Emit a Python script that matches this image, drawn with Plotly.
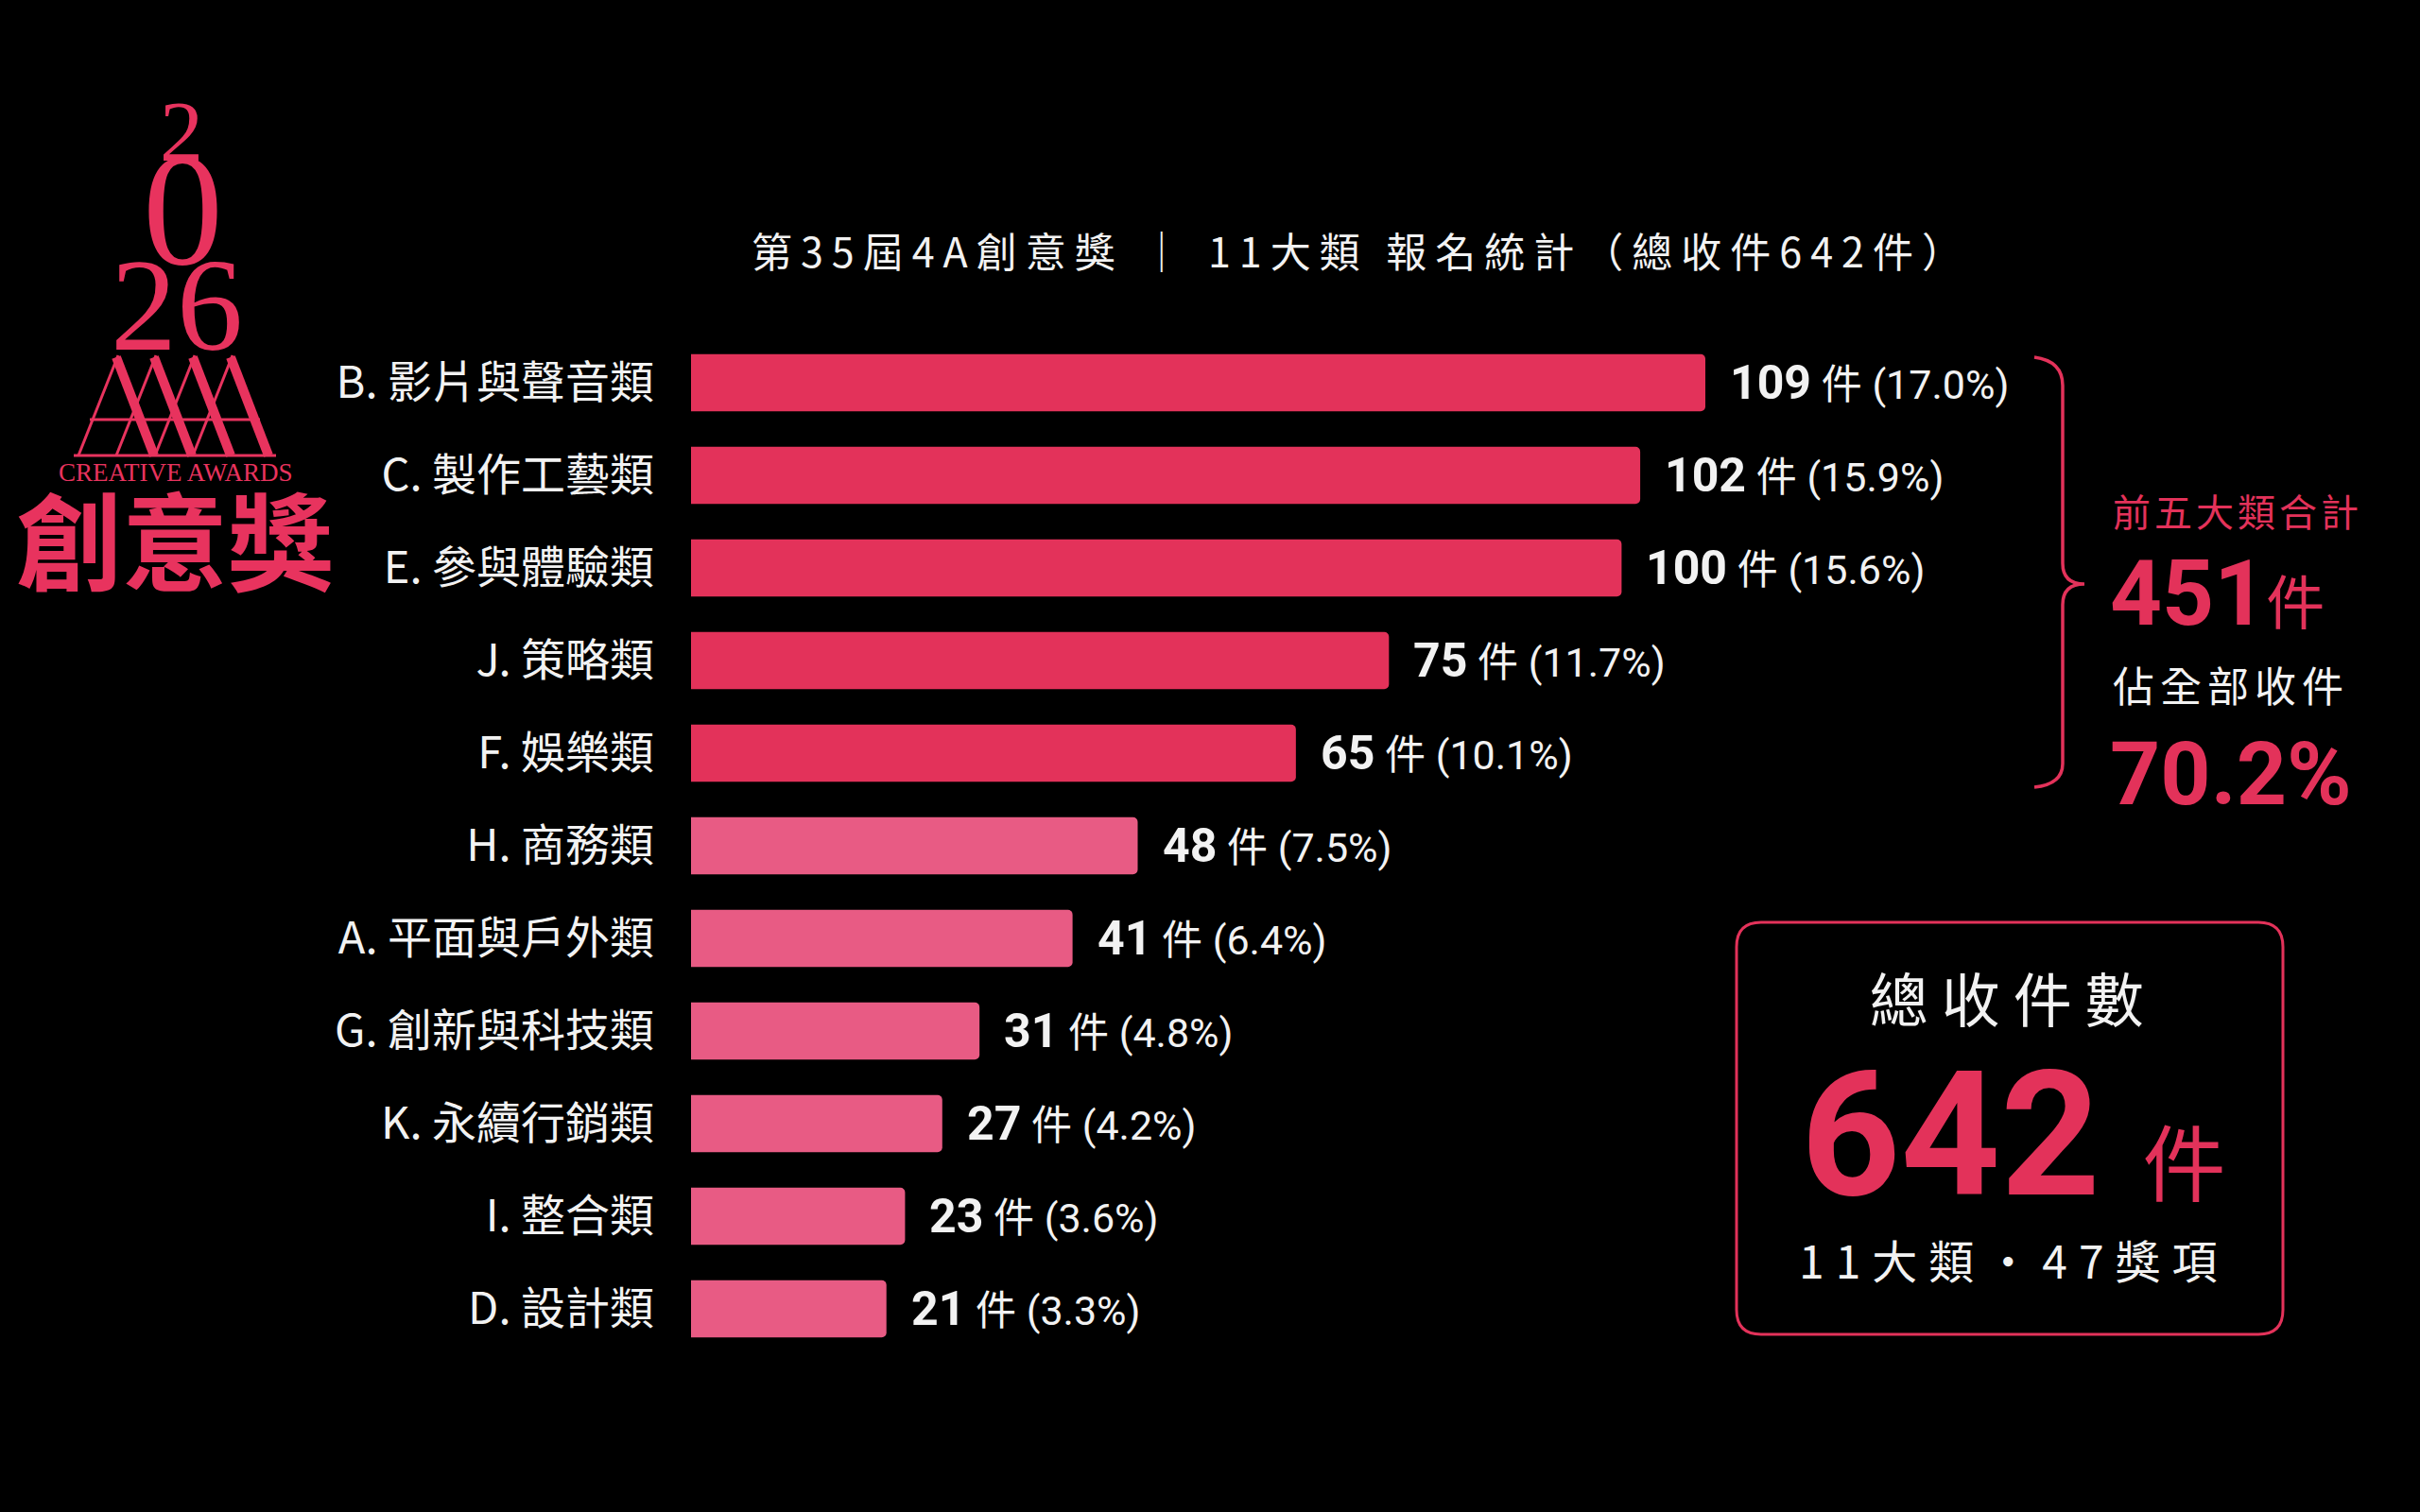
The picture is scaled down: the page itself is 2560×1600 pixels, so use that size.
import plotly.graph_objects as go

# ---------------- data ----------------
categories = ["B. 影片與聲音類", "C. 製作工藝類", "E. 參與體驗類", "J. 策略類", "F. 娛樂類",
              "H. 商務類", "A. 平面與戶外類", "G. 創新與科技類", "K. 永續行銷類", "I. 整合類", "D. 設計類"]
counts = [109, 102, 100, 75, 65, 48, 41, 31, 27, 23, 21]
pct_labels = ["17.0%", "15.9%", "15.6%", "11.7%", "10.1%", "7.5%", "6.4%", "4.8%", "4.2%", "3.6%", "3.3%"]
top_n = 5
top_total = "451"
top_share = "70.2%"
grand_total = "642"
summary_line = "11大類・47獎項"
title_text = "第35屆4A創意獎 ｜ 11大類 報名統計（總收件642件）"

# ---------------- style ----------------
W, H = 2560, 1600
PINK = "#E3325A"
PINK_LIGHT = "#E85B84"
LOGO = "#E8335E"
WHITE = "#F2F2F2"
CJK = "Noto Sans CJK TC"
NUM = "Roboto, Noto Sans CJK TC"
SERIF = "Liberation Serif, DejaVu Serif, serif"


def px(x):
    return x / W


def py(y):
    return 1 - y / H


bar_colors = [PINK if i < top_n else PINK_LIGHT for i in range(len(counts))]

x_left_px, x_109_px = 731, 1804
x_max = max(counts) * (W - x_left_px) / (x_109_px - x_left_px)

fig = go.Figure()
fig.add_trace(go.Bar(
    x=counts, y=categories, orientation="h",
    marker=dict(color=bar_colors, line=dict(width=0), cornerradius=5),
    hoverinfo="skip", showlegend=False,
))

annotations = []
# value labels
for c, v, p in zip(categories, counts, pct_labels):
    annotations.append(dict(
        x=v, y=c, xref="x", yref="y", xanchor="left", yanchor="middle", xshift=24,
        text=f"<b><span style='font-size:50px'>{v}</span></b> 件 ({p})",
        showarrow=False, font=dict(family=NUM, size=43, color=WHITE),
    ))

# title
annotations.append(dict(
    x=px(1440), y=py(264), xref="paper", yref="paper", xanchor="center", yanchor="middle",
    text=f"<span style='letter-spacing:9px'>{title_text}</span>", showarrow=False,
    font=dict(family=CJK, size=43, color=WHITE),
))

# right-hand bracket texts
annotations += [
    dict(x=px(2233), y=py(540), xref="paper", yref="paper", xanchor="left", yanchor="middle",
         text="<span style='letter-spacing:4px'>前五大類合計</span>", showarrow=False,
         font=dict(family=CJK, size=40, color=PINK)),
    dict(x=px(2230), y=py(628), xref="paper", yref="paper", xanchor="left", yanchor="middle",
         text=f"<b>{top_total}</b><span style='font-size:62px'>件</span>", showarrow=False,
         font=dict(family=NUM, size=96, color=PINK)),
    dict(x=px(2233), y=py(724), xref="paper", yref="paper", xanchor="left", yanchor="middle",
         text="<span style='letter-spacing:6px'>佔全部收件</span>", showarrow=False,
         font=dict(family=CJK, size=44, color=WHITE)),
    dict(x=px(2230), y=py(820), xref="paper", yref="paper", xanchor="left", yanchor="middle",
         text=f"<b>{top_share}</b>", showarrow=False,
         font=dict(family=NUM, size=93, color=PINK)),
]

# total box texts (heading + big number share one annotation)
box_top_baseline = 1079
annotations += [
    dict(x=px(2130), y=py(box_top_baseline - 0.927 * 62), xref="paper", yref="paper",
         xanchor="center", yanchor="top", align="center",
         text=(f"<span style='font-size:62px;letter-spacing:14px;color:{WHITE}'>總收件數</span><br>"
               f"<b><span style='font-size:184px'>{grand_total}</span></b>"
               f"<span style='font-size:88px'>\u2002件</span>"),
         showarrow=False, font=dict(family=NUM, size=140, color=PINK)),
    dict(x=px(2130), y=py(1332), xref="paper", yref="paper", xanchor="center", yanchor="middle",
         text=f"<span style='letter-spacing:12px'>{summary_line}</span>", showarrow=False,
         font=dict(family=CJK, size=48, color=WHITE)),
]

# logo texts
annotations += [
    dict(x=px(192), y=py(139), xref="paper", yref="paper", xanchor="center", yanchor="middle",
         text="2", showarrow=False, font=dict(family=SERIF, size=92, color=LOGO)),
    dict(x=px(193), y=py(222), xref="paper", yref="paper", xanchor="center", yanchor="middle",
         text="0", showarrow=False, font=dict(family=SERIF, size=170, color=LOGO)),
    dict(x=px(187), y=py(322), xref="paper", yref="paper", xanchor="center", yanchor="middle",
         text="26", showarrow=False, font=dict(family=SERIF, size=140, color=LOGO)),
    dict(x=px(186), y=py(500), xref="paper", yref="paper", xanchor="center", yanchor="middle",
         text="CREATIVE AWARDS", showarrow=False, font=dict(family=SERIF, size=27, color=LOGO)),
    dict(x=px(185), y=py(568), xref="paper", yref="paper", xanchor="center", yanchor="middle",
         text="<b>創意獎</b>", showarrow=False, font=dict(family=CJK, size=112, color=LOGO)),
]

shapes = []
# bracket
bracket = [(2152, 378), (2182, 382), (2182, 408), (2182, 596), (2182, 618), (2205, 618),
           (2182, 618), (2182, 640), (2182, 808), (2182, 830), (2152, 833)]
b = [(px(x), py(y)) for x, y in bracket]
path = (f"M {b[0][0]},{b[0][1]} Q {b[1][0]},{b[1][1]} {b[2][0]},{b[2][1]} "
        f"L {b[3][0]},{b[3][1]} Q {b[4][0]},{b[4][1]} {b[5][0]},{b[5][1]} "
        f"Q {b[6][0]},{b[6][1]} {b[7][0]},{b[7][1]} L {b[8][0]},{b[8][1]} "
        f"Q {b[9][0]},{b[9][1]} {b[10][0]},{b[10][1]}")
shapes.append(dict(type="path", xref="paper", yref="paper", path=path,
                   line=dict(color=PINK, width=3.5)))

# rounded total box
x0, x1, y0, y1, r = 1837, 2415, 976, 1412, 26
pts = dict(
    a=(px(x0 + r), py(y0)), b=(px(x1 - r), py(y0)), c=(px(x1), py(y0)), d=(px(x1), py(y0 + r)),
    e=(px(x1), py(y1 - r)), f=(px(x1), py(y1)), g=(px(x1 - r), py(y1)), h=(px(x0 + r), py(y1)),
    i=(px(x0), py(y1)), j=(px(x0), py(y1 - r)), k=(px(x0), py(y0 + r)), l=(px(x0), py(y0)),
)
P = {k: f"{v[0]},{v[1]}" for k, v in pts.items()}
box_path = (f"M {P['a']} L {P['b']} Q {P['c']} {P['d']} L {P['e']} Q {P['f']} {P['g']} "
            f"L {P['h']} Q {P['i']} {P['j']} L {P['k']} Q {P['l']} {P['a']} Z")
shapes.append(dict(type="path", xref="paper", yref="paper", path=box_path,
                   line=dict(color=PINK, width=3)))

# logo "AAAA" strokes
apexes = [125, 165, 206, 246]
top_y, base_y, half = 376, 482, 42
for ax in apexes:
    shapes.append(dict(type="line", xref="paper", yref="paper",
                       x0=px(ax), y0=py(top_y), x1=px(ax - half), y1=py(base_y),
                       line=dict(color=LOGO, width=3)))
    shapes.append(dict(type="line", xref="paper", yref="paper",
                       x0=px(ax - 2), y0=py(top_y + 2), x1=px(ax + half - 4), y1=py(base_y),
                       line=dict(color=LOGO, width=10)))
shapes.append(dict(type="line", xref="paper", yref="paper",
                   x0=px(95), y0=py(444), x1=px(275), y1=py(444),
                   line=dict(color=LOGO, width=3)))
shapes.append(dict(type="line", xref="paper", yref="paper",
                   x0=px(78), y0=py(482), x1=px(292), y1=py(482),
                   line=dict(color=LOGO, width=3)))

fig.update_layout(
    width=W, height=H,
    margin=dict(l=0, r=0, t=0, b=0),
    paper_bgcolor="#000000", plot_bgcolor="#000000",
    bargap=0.385,
    showlegend=False,
    hovermode=False,
    xaxis=dict(domain=[px(x_left_px), 1], range=[0, x_max], visible=False, fixedrange=True),
    yaxis=dict(domain=[py(1434), py(356)], type="category", categoryorder="array",
               categoryarray=categories, range=[len(categories) - 0.5, -0.5],
               showgrid=False, zeroline=False, showline=False, ticks="",
               ticklabelstandoff=38,
               tickfont=dict(family=CJK, size=47, color=WHITE), fixedrange=True),
    annotations=annotations,
    shapes=shapes,
)

fig.write_html(
    "out.html",
    config={"displayModeBar": False},
    post_script="document.body.style.margin='0px';document.body.style.overflow='hidden';"
                "document.body.style.background='#000';",
)
